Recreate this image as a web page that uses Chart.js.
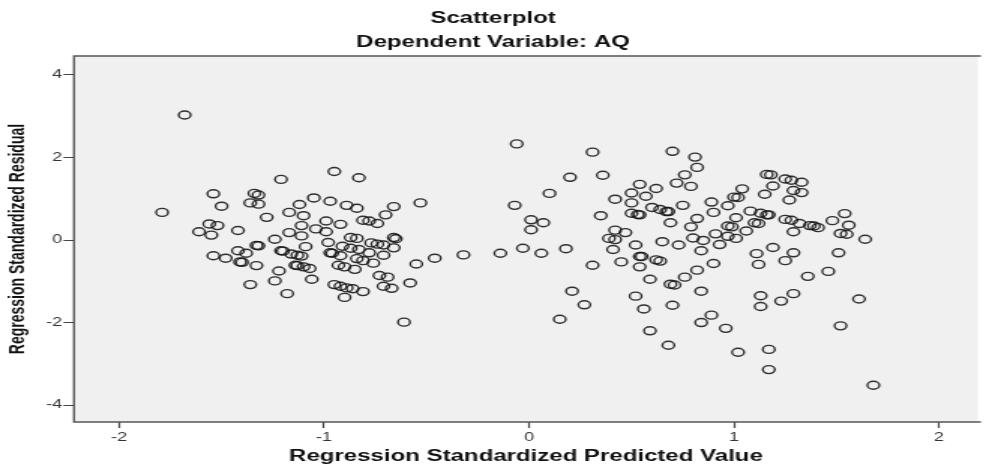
<!DOCTYPE html>
<html>
<head>
<meta charset="utf-8">
<script src="https://cdn.jsdelivr.net/npm/chart.js@4.4.1/dist/chart.umd.min.js"></script>
<style>
  html, body { margin: 0; padding: 0; background: #fff; overflow: hidden; }
</style>
</head>
<body>
<!-- the SPSS picture is stretched sideways (~1.5x), so draw narrow and widen with css -->
<canvas id="plot" width="657" height="472" style="display:block;width:986px;height:472px"></canvas>
<script>
// Regression Standardized Predicted Value (x)
const predicted = [
  -1.68, -1.79, -1.21, -0.95, -0.83, -1.54, -1.34, -1.32, -1.50, -1.36,
  -1.32, -1.05, -1.12, -0.97, -0.89, -0.84, -0.66, -0.53, -1.28, -1.17,
  -1.10, -0.70, -1.56, -1.52, -1.61, -1.55, -1.42, -1.11, -0.99, -0.92,
  -0.81, -0.78, -0.74, -1.04, -0.99, -1.17, -1.11, -1.24, -0.87, -0.84,
  -0.66, -0.65, -0.77, -0.74, -0.71, -0.66, -0.98, -0.91, -0.87, -0.83,
  -0.78, -1.09, -1.33, -1.32, -1.42, -1.38, -1.54, -1.48, -1.41, -1.40,
  -1.33, -1.21, -1.20, -1.16, -1.13, -1.11, -0.97, -0.96, -0.92, -0.84,
  -0.81, -0.76, -0.71, -1.14, -1.13, -1.10, -1.07, -0.93, -0.90, -0.85,
  -1.22, -1.24, -1.06, -1.36, -1.18, -0.95, -0.92, -0.89, -0.86, -0.81,
  -0.90, -0.73, -0.69, -0.71, -0.67, -0.58, -0.55, -0.46, -0.61,
  -0.32, -0.14, -0.03, 0.06, 0.18, 0.31, 0.21, 0.27, 0.15, -0.06,
  0.31, 0.20, 0.36, 0.10, -0.07, 0.35, 0.42, 0.01, 0.07, 0.01,
  0.42, 0.47, 0.39, 0.42, 0.41,
  0.70, 0.81, 0.82, 0.76, 0.72, 0.79, 0.54, 0.62, 0.50, 0.57,
  0.50, 0.60, 0.64, 0.67, 0.68, 0.75, 0.89, 0.97, 1.04, 1.00,
  1.02, 0.50, 0.53, 0.54, 0.69, 0.82, 0.90, 1.01, 0.97, 0.99,
  0.79, 0.91, 1.01, 0.97, 1.06, 0.52, 0.65, 0.73, 0.80, 0.85,
  0.93, 0.84, 0.45, 0.54, 0.55, 0.54, 0.62, 0.64, 0.82, 0.90,
  0.59, 0.76, 0.69, 0.71, 0.84, 0.52, 0.56, 0.70, 0.59, 0.68,
  0.84, 0.89, 0.96, 1.02,
  1.16, 1.18, 1.25, 1.28, 1.33, 1.19, 1.15, 1.29, 1.33, 1.27,
  1.08, 1.13, 1.16, 1.17, 1.10, 1.12, 1.25, 1.28, 1.32, 1.37,
  1.39, 1.41, 1.29, 1.48, 1.54, 1.56, 1.52, 1.55, 1.64, 1.19,
  1.11, 1.29, 1.12, 1.25, 1.51, 1.46, 1.36, 1.13, 1.13, 1.23,
  1.29, 1.61, 1.52, 1.17, 1.17, 1.68
];

// Regression Standardized Residual (y)
const residual = [
  3.03, 0.67, 1.47, 1.66, 1.51, 1.12, 1.13, 1.09, 0.82, 0.90,
  0.87, 1.02, 0.86, 0.94, 0.84, 0.77, 0.81, 0.90, 0.55, 0.67,
  0.59, 0.61, 0.39, 0.35, 0.20, 0.12, 0.23, 0.35, 0.46, 0.38,
  0.48, 0.46, 0.40, 0.27, 0.20, 0.18, 0.10, 0.02, 0.06, 0.04,
  0.06, 0.03, -0.07, -0.10, -0.12, -0.19, -0.06, -0.15, -0.20, -0.23,
  -0.31, -0.16, -0.13, -0.14, -0.26, -0.32, -0.38, -0.44, -0.53, -0.54,
  -0.62, -0.26, -0.27, -0.34, -0.37, -0.39, -0.31, -0.32, -0.38, -0.45,
  -0.50, -0.56, -0.37, -0.61, -0.62, -0.65, -0.69, -0.61, -0.65, -0.71,
  -0.75, -0.99, -0.95, -1.08, -1.30, -1.08, -1.12, -1.16, -1.18, -1.25,
  -1.39, -0.86, -0.90, -1.12, -1.17, -1.04, -0.58, -0.44, -1.99,
  -0.36, -0.32, -0.20, -0.32, -0.21, -0.61, -1.24, -1.57, -1.92, 2.33,
  2.13, 1.52, 1.57, 1.13, 0.84, 0.59, 0.99, 0.49, 0.42, 0.25,
  0.24, 0.18, 0.04, 0.01, -0.23,
  2.15, 2.01, 1.76, 1.58, 1.38, 1.30, 1.35, 1.25, 1.14, 1.06,
  0.90, 0.79, 0.74, 0.69, 0.69, 0.84, 0.92, 0.83, 1.24, 1.04,
  1.03, 0.65, 0.62, 0.61, 0.42, 0.52, 0.67, 0.54, 0.34, 0.32,
  0.32, 0.15, 0.04, 0.09, 0.22, -0.12, -0.04, -0.12, 0.05, -0.01,
  -0.11, -0.26, -0.53, -0.40, -0.40, -0.65, -0.48, -0.51, -0.73, -0.57,
  -0.95, -0.90, -1.07, -1.09, -1.24, -1.36, -1.67, -1.58, -2.20, -2.55,
  -2.00, -1.82, -2.14, -2.72,
  1.59, 1.58, 1.48, 1.45, 1.40, 1.31, 1.11, 1.20, 1.15, 0.97,
  0.70, 0.65, 0.61, 0.61, 0.42, 0.40, 0.50, 0.48, 0.40, 0.35,
  0.34, 0.30, 0.20, 0.47, 0.64, 0.36, 0.16, 0.14, 0.02, -0.18,
  -0.33, -0.31, -0.59, -0.50, -0.31, -0.76, -0.88, -1.35, -1.61, -1.48,
  -1.30, -1.43, -2.08, -2.65, -3.14, -3.52
];

const xTicks = [-2, -1, 0, 1, 2];
const yTicks = [-4, -2, 0, 2, 4];

const points = predicted.map((x, i) => ({ x: x, y: residual[i] }));

const font = 'Liberation Sans, Arial, sans-serif';

// grey plot area and its frame (no right edge, it runs off the picture)
const plotFrame = {
  id: 'plotFrame',
  beforeDatasetsDraw(chart) {
    const { ctx, chartArea: a } = chart;
    ctx.save();
    ctx.fillStyle = '#f0f0f0';
    ctx.fillRect(a.left, a.top, a.right - a.left, a.bottom - a.top);
    ctx.restore();
  },
  afterDatasetsDraw(chart) {
    const { ctx, chartArea: a } = chart;
    ctx.save();
    ctx.strokeStyle = '#555';
    ctx.lineWidth = 1.4;
    ctx.beginPath();
    ctx.moveTo(a.right + 2, a.top);
    ctx.lineTo(a.left, a.top);
    ctx.lineTo(a.left, a.bottom);
    ctx.lineTo(a.right + 2, a.bottom);
    ctx.stroke();
    ctx.restore();
  }
};

const ctx = document.getElementById('plot').getContext('2d');
const chart = new Chart(ctx, {
  type: 'scatter',
  data: {
    datasets: [{
      data: points,
      pointStyle: 'circle',
      pointRadius: 4,
      pointHoverRadius: 4,
      borderWidth: 1.4,
      borderColor: 'rgba(20,20,20,0.88)',
      backgroundColor: 'rgba(0,0,0,0)'
    }]
  },
  options: {
    responsive: false,
    animation: false,
    devicePixelRatio: 1,
    layout: { padding: 0 },
    plugins: {
      legend: { display: false },
      tooltip: { enabled: false },
      title: {
        display: true,
        text: 'Scatterplot',
        color: '#111',
        font: { family: font, size: 16, weight: 'bold' },
        padding: { top: 9.4, bottom: 4.8 }
      },
      subtitle: {
        display: true,
        text: 'Dependent Variable: AQ',
        color: '#111',
        font: { family: font, size: 16, weight: 'bold' },
        padding: { top: 0, bottom: 3.4 }
      }
    },
    scales: {
      x: {
        type: 'linear',
        min: -2.22,
        max: 2.19,
        afterFit(scale) { scale.height = 50; },
        afterBuildTicks(scale) { scale.ticks = xTicks.map(v => ({ value: v })); },
        border: { display: false },
        grid: {
          drawOnChartArea: false,
          drawTicks: true,
          tickLength: 6,
          tickColor: '#444',
          tickWidth: 1.2
        },
        ticks: {
          color: '#333',
          padding: 2,
          maxRotation: 0,
          font: { family: font, size: 12 }
        },
        title: {
          display: true,
          text: 'Regression Standardized Predicted Value',
          color: '#111',
          font: { family: font, size: 16, weight: 'bold' },
          padding: { top: 0, bottom: 5.4 }
        }
      },
      y: {
        type: 'linear',
        min: -4.41,
        max: 4.46,
        afterFit(scale) { scale.width = 49.3; },
        afterBuildTicks(scale) { scale.ticks = yTicks.map(v => ({ value: v })); },
        border: { display: false },
        grid: {
          drawOnChartArea: false,
          drawTicks: true,
          tickLength: 7,
          tickColor: '#444',
          tickWidth: 1
        },
        ticks: {
          color: '#333',
          padding: 1,
          font: { family: font, size: 12 }
        },
        title: {
          display: true,
          text: 'Regression Standardized Residual',
          color: '#111',
          font: { family: font, size: 14, weight: 'bold' },
          padding: { top: 3.6, bottom: 0 }
        }
      }
    }
  },
  plugins: [plotFrame]
});
</script>
</body>
</html>
